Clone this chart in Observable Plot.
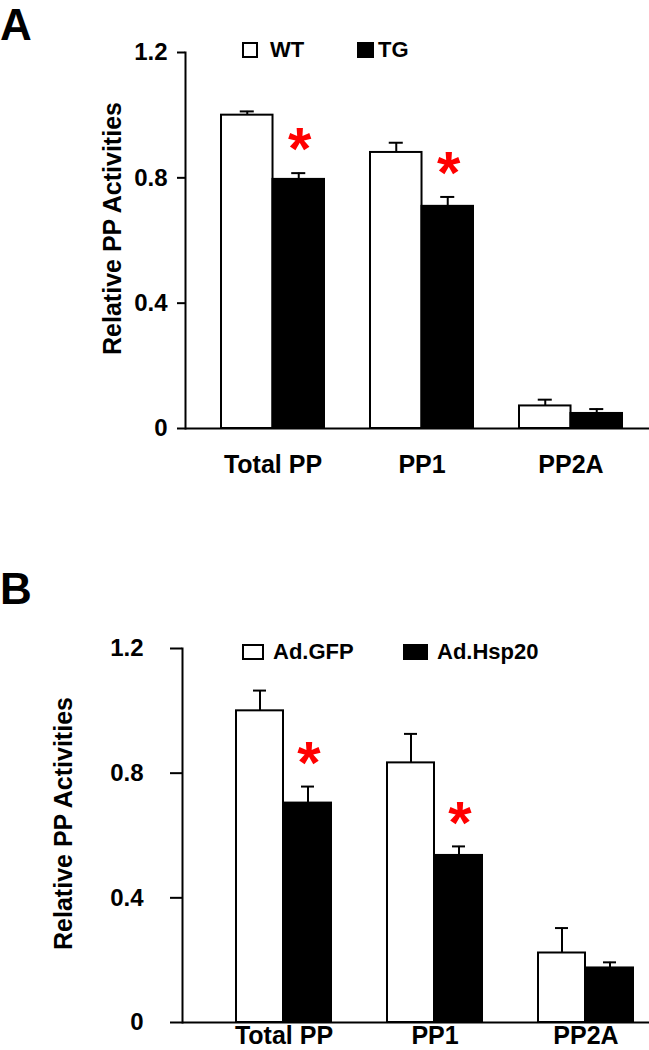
<!DOCTYPE html>
<html>
<head>
<meta charset="utf-8">
<script src="https://cdn.jsdelivr.net/npm/d3@7"></script>
<script src="https://cdn.jsdelivr.net/npm/@observablehq/plot@0.6"></script>
<style>
  body { margin: 0; background: #fff; }
  #root { position: relative; width: 649px; height: 1050px; overflow: hidden; background: #fff;
          font-family: "Liberation Sans", Arial, sans-serif; font-weight: bold; color: #000; }
  .panel { position: absolute; left: 0; z-index: 1; }
  .letter { position: absolute; left: 0; font-size: 44px; line-height: normal; z-index: 3; }
  .ltxt { position: absolute; font-size: 22px; line-height: 22px; white-space: nowrap; z-index: 3; }
  .box { position: absolute; box-sizing: border-box; height: 16px; z-index: 3; }
  .box.open { border: 2px solid #000; background: #fff; }
  .box.fill { background: #000; }
</style>
</head>
<body>
<div id="root">
  <div id="plotA" class="panel" style="top:0px"></div>
  <div id="plotB" class="panel" style="top:520px"></div>

  <div class="letter" style="top:0px">A</div>
  <div class="letter" style="top:564px">B</div>

  <div class="box open" style="left:242px;top:42px;width:16px"></div>
  <div class="ltxt" style="left:270px;top:39px" id="legA1"></div>
  <div class="box fill" style="left:357px;top:42px;width:17px"></div>
  <div class="ltxt" style="left:378px;top:39px" id="legA2"></div>

  <div class="box open" style="left:242px;top:644px;width:22px"></div>
  <div class="ltxt" style="left:273px;top:641px" id="legB1"></div>
  <div class="box fill" style="left:403px;top:644px;width:25px"></div>
  <div class="ltxt" style="left:437px;top:641px" id="legB2"></div>
</div>
<script>
// ---------- data ----------
const groups = ["Total PP", "PP1", "PP2A"];
const yTicks = [0, 0.4, 0.8, 1.2];
const yLabel = "Relative PP Activities";

// Panel A
const seriesA = ["WT", "TG"];
const wtA = [1.00, 0.881, 0.072];
const wtErrA = [0.012, 0.031, 0.020];
const tgA = [0.795, 0.709, 0.048];
const tgErrA = [0.020, 0.030, 0.014];
const sigA = [true, true, false];

// Panel B
const seriesB = ["Ad.GFP", "Ad.Hsp20"];
const gfpB = [1.00, 0.833, 0.223];
const gfpErrB = [0.065, 0.093, 0.080];
const hspB = [0.704, 0.536, 0.175];
const hspErrB = [0.053, 0.029, 0.018];
const sigB = [true, true, false];

document.getElementById("legA1").textContent = seriesA[0];
document.getElementById("legA2").textContent = seriesA[1];
document.getElementById("legB1").textContent = seriesB[0];
document.getElementById("legB2").textContent = seriesB[1];

const rows = (vals, errs) => groups.map((g, i) => ({group: g, value: vals[i], err: errs[i]}));

function panel(cfg) {
  const {ctl, trt, sig, height, marginLeft, marginTop, marginBottom,
         paddingInner, paddingOuter, align, tickSize, tickPadding, xPad, labelDx} = cfg;
  const width = 649;
  const bw = d3.scaleBand().domain(groups).range([marginLeft, width])
    .paddingInner(paddingInner).paddingOuter(paddingOuter).align(align).bandwidth();
  const half = bw / 2, q = bw / 4, cap = 7;
  const sigRows = trt.filter((d, i) => sig[i]);
  return Plot.plot({
    width, height, marginLeft, marginRight: 0, marginTop, marginBottom,
    style: {fontFamily: '"Liberation Sans", Arial, sans-serif', fontWeight: "bold",
            background: "transparent", overflow: "visible", color: "black"},
    x: {domain: groups, paddingInner, paddingOuter, align, axis: null},
    y: {domain: [0, 1.2], axis: null},
    marks: [
      Plot.barY(ctl, {x: "group", y: "value", insetRight: half, fill: "white", stroke: "black", strokeWidth: 2}),
      Plot.barY(trt, {x: "group", y: "value", insetLeft: half, fill: "black", stroke: "black", strokeWidth: 2}),
      Plot.ruleX(ctl, {x: "group", y1: "value", y2: d => d.value + d.err, dx: -q, strokeWidth: 2}),
      Plot.ruleX(trt, {x: "group", y1: "value", y2: d => d.value + d.err, dx: q, strokeWidth: 2}),
      Plot.tickY(ctl, {x: "group", y: d => d.value + d.err, insetLeft: q - cap, insetRight: bw - q - cap, strokeWidth: 2}),
      Plot.tickY(trt, {x: "group", y: d => d.value + d.err, insetLeft: bw - q - cap, insetRight: q - cap, strokeWidth: 2}),
      Plot.text(sigRows, {x: "group", y: d => d.value + d.err, text: () => "*", dx: q + 1, dy: -23,
                          fill: "#ff0000", fontSize: 60, fontWeight: "bold"}),
      Plot.ruleY([0], {strokeWidth: 2}),
      Plot.frame({anchor: "left", strokeWidth: 2}),
      Plot.axisY({ticks: yTicks, tickSize, tickPadding, strokeWidth: 2, fontSize: 24, label: null,
                  tickFormat: d => d === 0 ? "0" : d.toFixed(1)}),
      Plot.axisX({tickSize: 0, tickPadding: xPad, fontSize: 25, label: null}),
      Plot.text([yLabel], {frameAnchor: "left", textAnchor: "middle", lineAnchor: "middle",
                           rotate: -90, dx: labelDx, dy: -12, fontSize: 25, fontWeight: "bold"})
    ]
  });
}

document.getElementById("plotA").append(panel({
  ctl: rows(wtA, wtErrA), trt: rows(tgA, tgErrA), sig: sigA,
  height: 500, marginLeft: 185, marginTop: 52, marginBottom: 72,
  paddingInner: 0.309, paddingOuter: 0.2115, align: 0.568,
  tickSize: 8, tickPadding: 10, xPad: 27, labelDx: -73
}));

document.getElementById("plotB").append(panel({
  ctl: rows(gfpB, gfpErrB), trt: rows(hspB, hspErrB), sig: sigB,
  height: 530, marginLeft: 182, marginTop: 128, marginBottom: 28,
  paddingInner: 0.3684, paddingOuter: 0.2204, align: 0.776,
  tickSize: 12, tickPadding: 27, xPad: 4, labelDx: -119
}));
</script>
</body>
</html>
